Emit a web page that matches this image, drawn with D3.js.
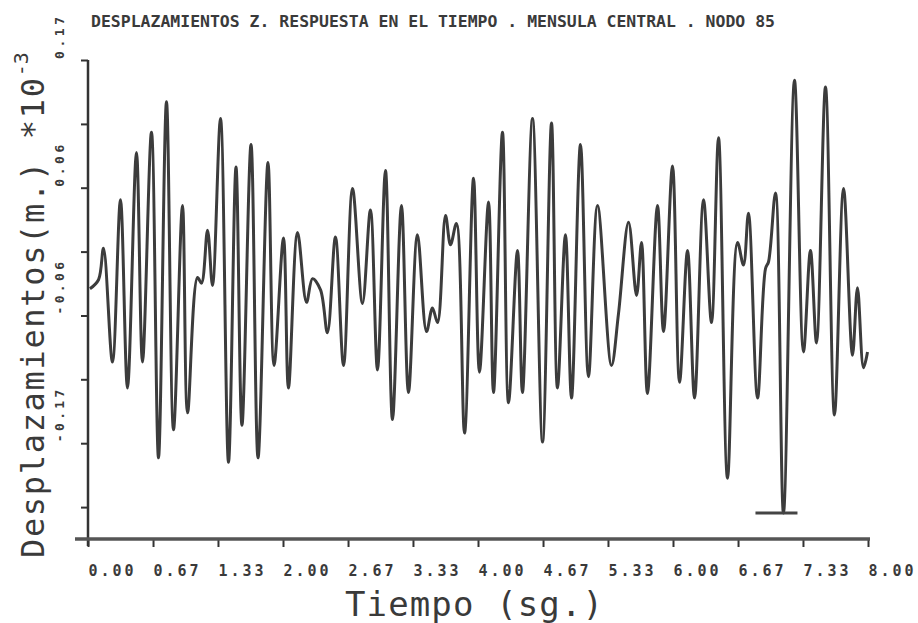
<!DOCTYPE html>
<html>
<head>
<meta charset="utf-8">
<script src="https://cdn.jsdelivr.net/npm/d3@7"></script>
<style>
  html, body { margin: 0; padding: 0; background: #fff; }
  text { font-family: "DejaVu Sans Mono", monospace; fill: #3a3a3a; }
</style>
</head>
<body>
<div id="chart"></div>
<script>
// time (sg.) of each turning point of the response
const times = [
  0.02, 0.108, 0.159, 0.251, 0.333, 0.405, 0.497, 0.559, 0.651, 0.723,
  0.805, 0.877, 0.969, 1.021, 1.123, 1.164, 1.226, 1.277, 1.359, 1.441,
  1.518, 1.579, 1.672, 1.744, 1.846, 1.908, 2.005, 2.056, 2.149, 2.241,
  2.303, 2.385, 2.456, 2.538, 2.621, 2.713, 2.815, 2.897, 2.969, 3.051,
  3.123, 3.215, 3.287, 3.379, 3.472, 3.533, 3.585, 3.667, 3.718, 3.779,
  3.862, 3.954, 4.015, 4.108, 4.159, 4.251, 4.313, 4.405, 4.456, 4.559,
  4.662, 4.754, 4.815, 4.897, 4.959, 5.051, 5.133, 5.226, 5.369, 5.441,
  5.544, 5.626, 5.677, 5.738, 5.841, 5.903, 5.995, 6.067, 6.149, 6.221,
  6.313, 6.395, 6.467, 6.559, 6.662, 6.723, 6.774, 6.867, 6.949, 6.980,
  7.051, 7.133, 7.246, 7.338, 7.410, 7.472, 7.564, 7.656, 7.749, 7.841,
  7.892, 7.954, 7.995
];
// displacement (m. x10^-3)
const disp = [
  -0.033, -0.025, 0.003, -0.098, 0.046, -0.121, 0.088, -0.098, 0.106, -0.183,
  0.133, -0.158, 0.041, -0.143, -0.023, -0.028, 0.019, -0.030, 0.118, -0.187,
  0.075, -0.154, 0.095, -0.183, 0.079, -0.101, 0.012, -0.121, 0.017, -0.045,
  -0.024, -0.034, -0.072, 0.013, -0.101, 0.056, -0.046, 0.037, -0.105, 0.072,
  -0.149, 0.041, -0.125, 0.015, -0.071, -0.050, -0.063, 0.032, 0.006, 0.025,
  -0.161, 0.065, -0.107, 0.044, -0.125, 0.106, -0.134, 0.001, -0.125, 0.118,
  -0.169, 0.114, -0.121, 0.015, -0.130, 0.095, -0.111, 0.041, -0.101, -0.055,
  0.026, -0.039, 0.008, -0.126, 0.041, -0.071, 0.076, -0.116, 0.001, -0.130,
  0.046, -0.063, 0.101, -0.201, 0.008, -0.012, 0.034, -0.130, -0.015, -0.009,
  0.052, -0.232, 0.152, -0.089, 0.001, -0.081, 0.146, -0.145, 0.056, -0.092,
  -0.032, -0.103, -0.089
];

const xTicks = [0, 0.667, 1.333, 2, 2.667, 3.333, 4, 4.667, 5.333, 6, 6.667, 7.333, 8];
const xTickLabels = ['0.00', '0.67', '1.33', '2.00', '2.67', '3.33', '4.00', '4.67', '5.33', '6.00', '6.67', '7.33', '8.00'];
const yTicks = [0.17, 0.1133, 0.0567, 0, -0.0567, -0.1133, -0.17, -0.2267];
const yLabelTicks = [0.17, 0.0567, -0.0567, -0.17];
const yTickLabels = ['0.17', '0.06', '-0.06', '-0.17'];

const width = 918, height = 623;
const svg = d3.select('#chart').append('svg')
  .attr('width', width).attr('height', height);

const x = d3.scaleLinear().domain([0, 8]).range([88, 868]);
const y = d3.scaleLinear().domain([-0.255, 0.17]).range([539, 60]);

// title
svg.append('text')
  .attr('x', 91).attr('y', 27)
  .attr('font-size', 15).attr('font-weight', 'bold')
  .attr('textLength', 684).attr('lengthAdjust', 'spacingAndGlyphs')
  .text('DESPLAZAMIENTOS Z.  RESPUESTA EN EL TIEMPO . MENSULA CENTRAL . NODO 85');

// y axis
const yAxis = svg.append('g')
  .attr('transform', `translate(${x(0)},0)`)
  .call(d3.axisLeft(y).tickValues(yTicks).tickSize(7).tickFormat(''));
yAxis.select('.domain').remove();
yAxis.selectAll('line').attr('stroke', '#333').attr('stroke-width', 2);
svg.append('line')
  .attr('x1', x(0)).attr('x2', x(0))
  .attr('y1', y(0.17)).attr('y2', y(-0.255) + 7)
  .attr('stroke', '#333').attr('stroke-width', 2.5);

svg.selectAll('.ylab').data(yLabelTicks).enter().append('text')
  .attr('class', 'ylab')
  .attr('transform', d => `translate(64,${y(d) - 1}) rotate(-90)`)
  .attr('font-size', 13).attr('font-weight', 'bold')
  .attr('text-anchor', 'start')
  .attr('textLength', (d, i) => yTickLabels[i].length * 10.5)
  .attr('lengthAdjust', 'spacing')
  .text((d, i) => yTickLabels[i]);

// x axis
const xAxis = svg.append('g')
  .attr('transform', `translate(0,${y(-0.255)})`)
  .call(d3.axisBottom(x).tickValues(xTicks).tickSize(8).tickFormat((d, i) => xTickLabels[i]));
xAxis.select('.domain').remove();
xAxis.selectAll('line').attr('stroke', '#333').attr('stroke-width', 2);
xAxis.selectAll('text')
  .attr('text-anchor', 'start').attr('x', 0).attr('y', 26)
  .attr('font-size', 15).attr('font-weight', 'bold')
  .attr('font-family', '"DejaVu Sans Mono", monospace')
  .attr('fill', '#3a3a3a')
  .attr('textLength', 45).attr('lengthAdjust', 'spacing');
svg.append('line')
  .attr('x1', x(0) - 13).attr('x2', x(8) + 2)
  .attr('y1', y(-0.255)).attr('y2', y(-0.255))
  .attr('stroke', '#555').attr('stroke-width', 3.5);

// axis titles
svg.append('text')
  .attr('x', 474).attr('y', 616)
  .attr('text-anchor', 'middle')
  .attr('font-size', 34).attr('fill', '#4a4a4a')
  .attr('textLength', 258).attr('lengthAdjust', 'spacing')
  .text('Tiempo (sg.)');

const yTitle = svg.append('text')
  .attr('transform', 'translate(44,558) rotate(-90)')
  .attr('font-size', 32).attr('fill', '#4a4a4a');
yTitle.append('tspan')
  .attr('textLength', 480).attr('lengthAdjust', 'spacing')
  .text('Desplazamientos(m.) *10');
yTitle.append('tspan')
  .attr('dy', -16).attr('font-size', 20)
  .text('-3');

// response curve
const pts = times.map((t, i) => [t, disp[i]]);
const line = d3.line()
  .x(d => x(d[0])).y(d => y(d[1]))
  .curve(d3.curveCatmullRom.alpha(0.5));
svg.append('path')
  .datum(pts)
  .attr('d', line)
  .attr('fill', 'none')
  .attr('stroke', '#3c3c3c')
  .attr('stroke-width', 3)
  .attr('stroke-linejoin', 'round');

// minimum marker
const iMin = d3.minIndex(disp);
svg.append('line')
  .attr('x1', x(times[iMin]) - 28).attr('x2', x(times[iMin]) + 14)
  .attr('y1', y(disp[iMin])).attr('y2', y(disp[iMin]))
  .attr('stroke', '#444').attr('stroke-width', 3);
</script>
</body>
</html>
